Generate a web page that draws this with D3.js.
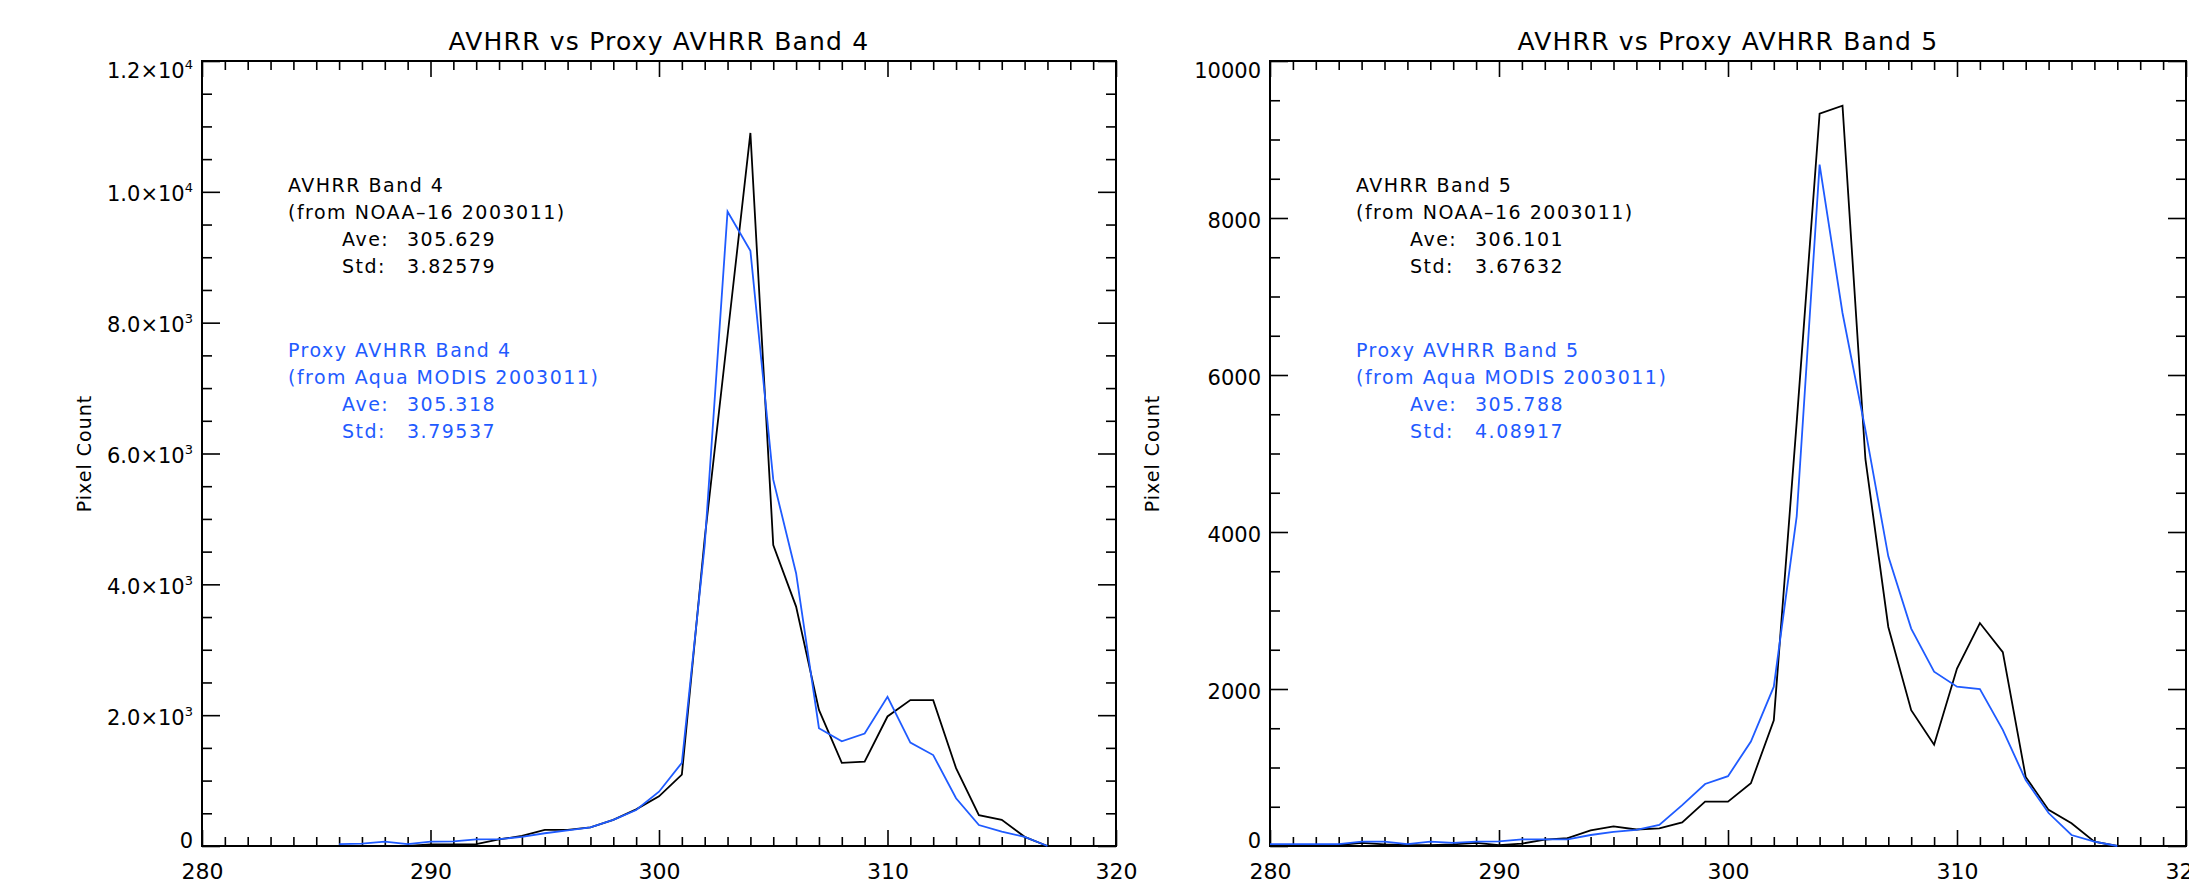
<!DOCTYPE html>
<html>
<head>
<meta charset="utf-8">
<script src="https://cdnjs.cloudflare.com/ajax/libs/d3/7.8.5/d3.min.js"></script>
<style>
    body { margin: 0; background: #fff; }
    svg text { font-family: "DejaVu Sans", sans-serif; fill: #000; }
</style>
</head>
<body>
<div id="elements"></div>
<script>
// Band 4 histograms (brightness temperature K -> pixel count)
var band4AvhrrTemp = [289, 290, 291, 292, 293, 294, 295, 296, 297, 298, 299, 300, 301, 302, 303,
    304, 305, 306, 307, 308, 309, 310, 311, 312, 313, 314, 315, 316, 317];
var band4AvhrrCount = [0, 25, 25, 30, 100, 155, 245, 245, 285, 400, 560, 760, 1090, 4700, 7800,
    10900, 4600, 3660, 2080, 1270, 1290, 1980, 2230, 2230, 1190, 470, 400, 140, 0];

var band4ProxyTemp = [286, 287, 288, 289, 290, 291, 292, 293, 294, 295, 296, 297, 298, 299, 300,
    301, 302, 303, 304, 305, 306, 307, 308, 309, 310, 311, 312, 313, 314, 315, 316, 317];
var band4ProxyCount = [30, 35, 66, 30, 66, 70, 100, 105, 140, 195, 240, 285, 400, 550, 830,
    1270, 4600, 9700, 9100, 5600, 4170, 1800, 1600, 1720, 2280, 1580, 1390, 730, 320, 220, 140, 0];

// Band 5 histograms
var band5AvhrrTemp = [280, 281, 282, 283, 284, 285, 286, 287, 288, 289, 290, 291, 292, 293, 294,
    295, 296, 297, 298, 299, 300, 301, 302, 303, 304, 305, 306, 307, 308, 309, 310, 311, 312,
    313, 314, 315, 316, 317];
var band5AvhrrCount = [10, 10, 10, 10, 40, 20, 10, 10, 20, 40, 10, 30, 80, 100, 200,
    250, 210, 225, 300, 565, 565, 800, 1600, 5400, 9330, 9430, 4930, 2790, 1730, 1290, 2260, 2840, 2470,
    880, 460, 290, 55, 0];

var band5ProxyTemp = [280, 281, 282, 283, 284, 285, 286, 287, 288, 289, 290, 291, 292, 293, 294,
    295, 296, 297, 298, 299, 300, 301, 302, 303, 304, 305, 306, 307, 308, 309, 310, 311, 312,
    313, 314, 315, 316, 317];
var band5ProxyCount = [25, 25, 25, 25, 55, 55, 25, 55, 40, 55, 60, 85, 85, 85, 140,
    180, 205, 268, 520, 790, 890, 1330, 2030, 4200, 8680, 6790, 5300, 3690, 2770, 2220, 2030, 2000, 1480,
    840, 420, 140, 55, 0];

// axes
var xTicks = [280, 290, 300, 310, 320];
var band4YTicks = [0, 2000, 4000, 6000, 8000, 10000, 12000];
var band4YLabels = [["0", ""], ["2.0\u00d710", "3"], ["4.0\u00d710", "3"], ["6.0\u00d710", "3"],
    ["8.0\u00d710", "3"], ["1.0\u00d710", "4"], ["1.2\u00d710", "4"]];
var band5YTicks = [0, 2000, 4000, 6000, 8000, 10000];
var band5YLabels = [["0", ""], ["2000", ""], ["4000", ""], ["6000", ""], ["8000", ""], ["10000", ""]];

// titles and statistics text
var titles = ["AVHRR vs Proxy AVHRR Band 4", "AVHRR vs Proxy AVHRR Band 5"];
var band4AvhrrNote = ["AVHRR Band 4", "(from NOAA\u201316 2003011)", "305.629", "3.82579"];
var band4ProxyNote = ["Proxy AVHRR Band 4", "(from Aqua MODIS 2003011)", "305.318", "3.79537"];
var band5AvhrrNote = ["AVHRR Band 5", "(from NOAA\u201316 2003011)", "306.101", "3.67632"];
var band5ProxyNote = ["Proxy AVHRR Band 5", "(from Aqua MODIS 2003011)", "305.788", "4.08917"];

var blue = "#1f5bff";

var svg = d3.select("#elements").append("svg")
    .attr("width", 2189)
    .attr("height", 885);

var plotTop = 61, plotBottom = 846;

var panels = [
    {
        left: 202, right: 1116, yMax: 12000, title: titles[0],
        yTicks: band4YTicks, yLabels: band4YLabels,
        series: [
            {temp: band4AvhrrTemp, count: band4AvhrrCount, color: "#000"},
            {temp: band4ProxyTemp, count: band4ProxyCount, color: blue}
        ],
        notes: [band4AvhrrNote, band4ProxyNote]
    },
    {
        left: 1270, right: 2186, yMax: 10000, title: titles[1],
        yTicks: band5YTicks, yLabels: band5YLabels,
        series: [
            {temp: band5AvhrrTemp, count: band5AvhrrCount, color: "#000"},
            {temp: band5ProxyTemp, count: band5ProxyCount, color: blue}
        ],
        notes: [band5AvhrrNote, band5ProxyNote]
    }
];

function styleAxis(sel) {
    sel.select(".domain").remove();
    sel.selectAll(".tick line")
        .attr("stroke", "#000")
        .attr("stroke-width", 1.6);
}

function drawPanel(p) {
    var x = d3.scaleLinear().domain([280, 320]).range([p.left, p.right]);
    var y = d3.scaleLinear().domain([0, p.yMax]).range([plotBottom, plotTop]);
    var g = svg.append("g");

    var xMinor = d3.range(280, 321, 1).filter(function (v) { return xTicks.indexOf(v) < 0; });
    var yMinor = d3.range(0, p.yMax + 1, 500).filter(function (v) { return p.yTicks.indexOf(v) < 0; });

    // minor ticks on all four sides
    g.append("g").attr("transform", "translate(0," + plotBottom + ")")
        .call(d3.axisBottom(x).tickValues(xMinor).tickSize(-9).tickSizeOuter(0).tickFormat(""))
        .call(styleAxis);
    g.append("g").attr("transform", "translate(0," + plotTop + ")")
        .call(d3.axisTop(x).tickValues(xMinor).tickSize(-9).tickSizeOuter(0).tickFormat(""))
        .call(styleAxis);
    g.append("g").attr("transform", "translate(" + p.left + ",0)")
        .call(d3.axisLeft(y).tickValues(yMinor).tickSize(-10).tickSizeOuter(0).tickFormat(""))
        .call(styleAxis);
    g.append("g").attr("transform", "translate(" + p.right + ",0)")
        .call(d3.axisRight(y).tickValues(yMinor).tickSize(-10).tickSizeOuter(0).tickFormat(""))
        .call(styleAxis);

    // major ticks
    var xAxis = g.append("g").attr("transform", "translate(0," + plotBottom + ")")
        .call(d3.axisBottom(x).tickValues(xTicks).tickSize(-16).tickSizeOuter(0).tickPadding(17))
        .call(styleAxis);
    xAxis.selectAll("text")
        .attr("font-size", 22)
        .attr("font-family", "DejaVu Sans")
        .attr("fill", "#000");

    g.append("g").attr("transform", "translate(0," + plotTop + ")")
        .call(d3.axisTop(x).tickValues(xTicks).tickSize(-16).tickSizeOuter(0).tickFormat(""))
        .call(styleAxis);

    var yAxis = g.append("g").attr("transform", "translate(" + p.left + ",0)")
        .call(d3.axisLeft(y).tickValues(p.yTicks).tickSize(-18).tickSizeOuter(0).tickPadding(9))
        .call(styleAxis);
    yAxis.selectAll("text")
        .attr("font-size", 21)
        .attr("font-family", "DejaVu Sans")
        .attr("fill", "#000")
        .attr("dy", null)
        .attr("y", function (d) {
            if (d === 0) return 1;
            if (d === p.yMax) return 16;
            return 9;
        })
        .each(function (d, i) {
            var lab = p.yLabels[i];
            var t = d3.select(this).text(lab[0]);
            if (lab[1]) {
                t.append("tspan")
                    .attr("font-size", 13)
                    .attr("dy", -9)
                    .text(lab[1]);
            }
        });

    g.append("g").attr("transform", "translate(" + p.right + ",0)")
        .call(d3.axisRight(y).tickValues(p.yTicks).tickSize(-18).tickSizeOuter(0).tickFormat(""))
        .call(styleAxis);

    // frame
    g.append("rect")
        .attr("x", p.left)
        .attr("y", plotTop)
        .attr("width", p.right - p.left)
        .attr("height", plotBottom - plotTop)
        .attr("fill", "none")
        .attr("stroke", "#000")
        .attr("stroke-width", 2);

    // histogram lines
    var line = d3.line()
        .x(function (d) { return x(d[0]); })
        .y(function (d) { return y(d[1]); });

    p.series.forEach(function (s) {
        g.append("path")
            .datum(d3.zip(s.temp, s.count))
            .attr("d", line)
            .attr("fill", "none")
            .attr("stroke", s.color)
            .attr("stroke-width", 1.8)
            .attr("stroke-linejoin", "miter");
    });

    // title
    g.append("text")
        .attr("x", (p.left + p.right) / 2)
        .attr("y", 50)
        .attr("text-anchor", "middle")
        .attr("font-size", 25)
        .attr("letter-spacing", 1.2)
        .text(p.title);

    // y axis title
    g.append("text")
        .attr("transform", "translate(" + (p.left - 111) + "," + ((plotTop + plotBottom) / 2) + ") rotate(-90)")
        .attr("text-anchor", "middle")
        .attr("font-size", 19)
        .attr("letter-spacing", 1)
        .text("Pixel Count");

    // statistics blocks
    var baselines = [192, 357];
    p.notes.forEach(function (note, k) {
        var color = k === 0 ? "#000" : blue;
        var b = baselines[k];
        var tg = g.append("g")
            .attr("font-size", 19)
            .attr("letter-spacing", 1.5)
            .style("fill", color);
        tg.append("text").attr("x", p.left + 86).attr("y", b).style("fill", color).text(note[0]);
        tg.append("text").attr("x", p.left + 86).attr("y", b + 27).style("fill", color).text(note[1]);
        tg.append("text").attr("x", p.left + 140).attr("y", b + 54).style("fill", color).text("Ave:");
        tg.append("text").attr("x", p.left + 205).attr("y", b + 54).style("fill", color).text(note[2]);
        tg.append("text").attr("x", p.left + 140).attr("y", b + 81).style("fill", color).text("Std:");
        tg.append("text").attr("x", p.left + 205).attr("y", b + 81).style("fill", color).text(note[3]);
    });
}

panels.forEach(drawPanel);
</script>
</body>
</html>
